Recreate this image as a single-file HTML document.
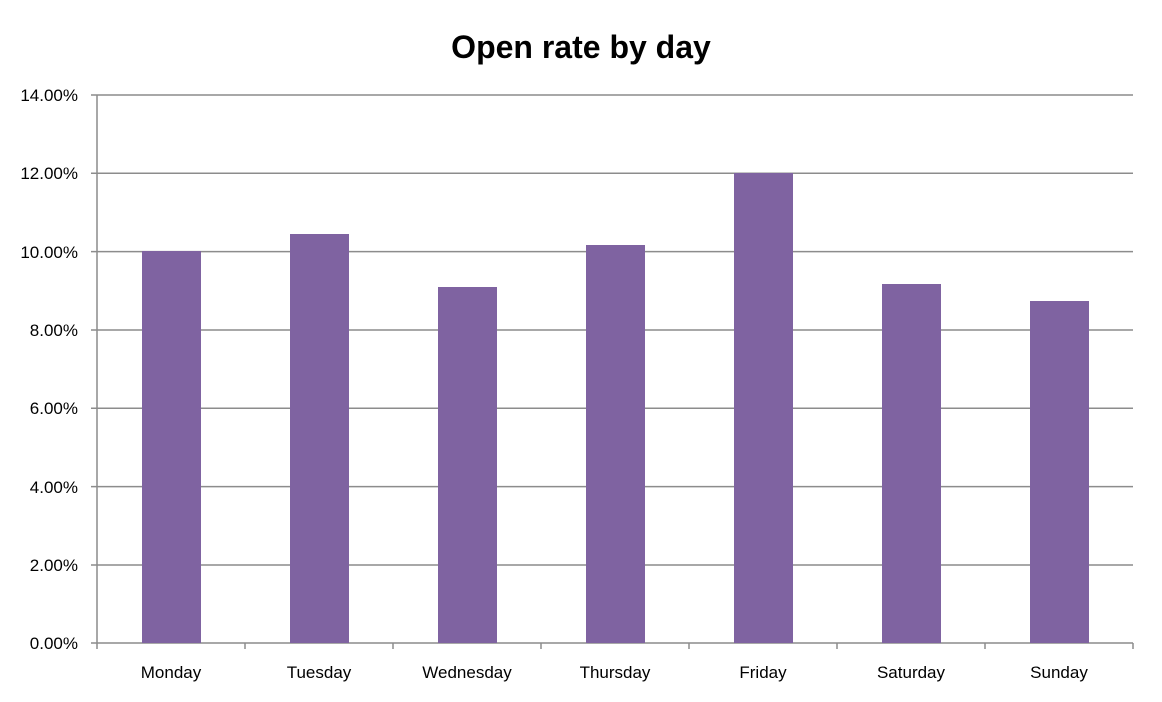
<!DOCTYPE html>
<html><head><style>body{margin:0;background:#fff}</style></head><body>
<svg width="1162" height="697" xmlns="http://www.w3.org/2000/svg" font-family="Liberation Sans, DejaVu Sans, sans-serif">
<rect width="1162" height="697" fill="#fff"/>
<text x="581" y="58" text-anchor="middle" font-size="32" font-weight="bold" fill="#000">Open rate by day</text>
<g stroke="#8c8c8c" stroke-width="1.5">
<line x1="91" y1="95" x2="1133" y2="95"/>
<line x1="91" y1="173.3" x2="1133" y2="173.3"/>
<line x1="91" y1="251.6" x2="1133" y2="251.6"/>
<line x1="91" y1="330" x2="1133" y2="330"/>
<line x1="91" y1="408.3" x2="1133" y2="408.3"/>
<line x1="91" y1="486.6" x2="1133" y2="486.6"/>
<line x1="91" y1="565" x2="1133" y2="565"/>
<line x1="91" y1="643" x2="1133" y2="643"/>
<line x1="97" y1="95" x2="97" y2="649"/>
<line x1="245" y1="643" x2="245" y2="649"/>
<line x1="393" y1="643" x2="393" y2="649"/>
<line x1="541" y1="643" x2="541" y2="649"/>
<line x1="689" y1="643" x2="689" y2="649"/>
<line x1="837" y1="643" x2="837" y2="649"/>
<line x1="985" y1="643" x2="985" y2="649"/>
<line x1="1133" y1="643" x2="1133" y2="649"/>
</g>
<g fill="#7f63a1">
<rect x="142" y="251" width="59" height="392"/>
<rect x="290" y="234" width="59" height="409"/>
<rect x="438" y="287" width="59" height="356"/>
<rect x="586" y="245" width="59" height="398"/>
<rect x="734" y="173" width="59" height="470"/>
<rect x="882" y="284" width="59" height="359"/>
<rect x="1030" y="301" width="59" height="342"/>
</g>
<g font-size="17" fill="#000" text-anchor="end">
<text x="78" y="101">14.00%</text>
<text x="78" y="179">12.00%</text>
<text x="78" y="258">10.00%</text>
<text x="78" y="336">8.00%</text>
<text x="78" y="414">6.00%</text>
<text x="78" y="493">4.00%</text>
<text x="78" y="571">2.00%</text>
<text x="78" y="649">0.00%</text>
</g>
<g font-size="17" fill="#000" text-anchor="middle">
<text x="171" y="678">Monday</text>
<text x="319" y="678">Tuesday</text>
<text x="467" y="678">Wednesday</text>
<text x="615" y="678">Thursday</text>
<text x="763" y="678">Friday</text>
<text x="911" y="678">Saturday</text>
<text x="1059" y="678">Sunday</text>
</g>
</svg>
</body></html>
